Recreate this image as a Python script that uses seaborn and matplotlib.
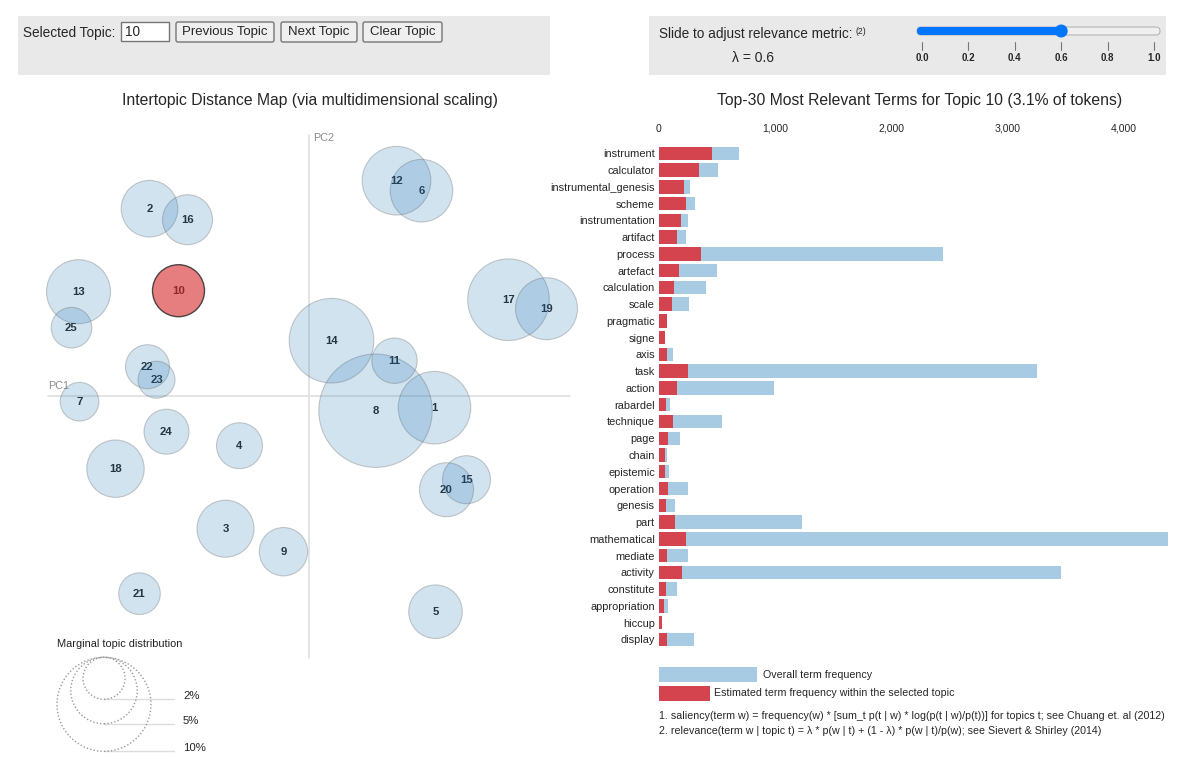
import matplotlib
matplotlib.use("Agg")
import matplotlib.pyplot as plt
from matplotlib.patches import Circle, FancyBboxPatch, Rectangle
import numpy as np
import pandas as pd
import seaborn as sns

# intertopic distance map: topic id, PC1, PC2, share of tokens (%)
topic_ids = list(range(1, 26))
pc1 = [0.125, -0.160, -0.084, -0.070, 0.126, 0.112, -0.230, 0.066, -0.026, -0.131,
       0.085, 0.087, -0.231, 0.022, 0.157, -0.122, 0.199, -0.194, 0.237, 0.137,
       -0.170, -0.162, -0.153, -0.143, -0.238]
pc2 = [-0.012, 0.187, -0.133, -0.050, -0.216, 0.205, -0.006, -0.015, -0.156, 0.105,
       0.035, 0.215, 0.104, 0.055, -0.084, 0.176, 0.096, -0.073, 0.087, -0.094,
       -0.198, 0.029, 0.016, -0.036, 0.068]
topic_pct = [5.96, 3.63, 3.68, 2.39, 3.25, 4.43, 1.69, 14.55, 2.65, 3.06,
             2.33, 5.33, 4.64, 8.10, 2.61, 2.83, 7.54, 3.73, 4.35, 3.30,
             1.96, 2.19, 1.55, 2.29, 1.87]
selected_topic = 10
legend_pct = [2, 5, 10]

# top-30 terms for topic 10
terms = ["instrument", "calculator", "instrumental_genesis", "scheme", "instrumentation",
         "artifact", "process", "artefact", "calculation", "scale", "pragmatic", "signe",
         "axis", "task", "action", "rabardel", "technique", "page", "chain", "epistemic",
         "operation", "genesis", "part", "mathematical", "mediate", "activity",
         "constitute", "appropriation", "hiccup", "display"]
term_total = [688, 511, 268, 308, 246, 236, 2438, 496, 406, 261, 65, 54, 120, 3250,
              993, 94, 540, 181, 65, 87, 250, 134, 1232, 4377, 246, 3460, 152, 80, 25, 301]
term_topic = [453, 341, 217, 228, 192, 156, 359, 170, 127, 109, 65, 54, 69, 246,
              152, 58, 120, 76, 51, 54, 76, 58, 141, 228, 69, 199, 58, 47, 25, 69]
freq_ticks = [0, 1000, 2000, 3000, 4000]

lambda_ticks = [0.0, 0.2, 0.4, 0.6, 0.8, 1.0]
lambda_value = 0.6

sns.set_theme(style="white")
plt.rcParams['font.family'] = ['Liberation Sans', 'DejaVu Sans']

W, H = 1200, 777
fig = plt.figure(figsize=(12, 7.77), dpi=100)


def box(x0, y0, x1, y1):
    return [x0 / W, 1 - y1 / H, (x1 - x0) / W, (y1 - y0) / H]


blue = '#a6cbe3'
red = '#d3444e'

# ---- page layer (controls, titles, legend) in pixel units
ui = fig.add_axes([0, 0, 1, 1], zorder=0)
ui.set_xlim(0, W)
ui.set_ylim(H, 0)
ui.axis('off')

ui.add_patch(Rectangle((18, 16), 532, 59, fc='#e9e9e9', ec='none'))
ui.add_patch(Rectangle((649, 16), 517, 59, fc='#e9e9e9', ec='none'))

ui.text(23, 32.5, "Selected Topic:", fontsize=9.8, va='center')
ui.add_patch(Rectangle((121, 22), 48, 19, fc='white', ec='#767676', lw=1))
ui.text(125, 32.5, str(selected_topic), fontsize=9.8, va='center')
for x0, w, label in [(176, 98, "Previous Topic"), (281, 76, "Next Topic"), (363, 79, "Clear Topic")]:
    ui.add_patch(FancyBboxPatch((x0, 22), w, 20, boxstyle='round,pad=0,rounding_size=2',
                                fc='#efefef', ec='#767676', lw=1))
    ui.text(x0 + w / 2, 32.5, label, fontsize=9.5, ha='center', va='center')

ui.text(659, 34, "Slide to adjust relevance metric:", fontsize=9.8, va='center')
ui.text(855, 31.5, "(2)", fontsize=6.2, va='center')
ui.text(732, 58, "λ = {:.1f}".format(lambda_value), fontsize=10, va='center')

sx0, sx1 = 922, 1154
ui.add_patch(FancyBboxPatch((917, 27), 243, 8, boxstyle='round,pad=0,rounding_size=4',
                            fc='#efefef', ec='#b5b5b5', lw=0.8))
thumb_x = sx0 + lambda_value * (sx1 - sx0)
ui.add_patch(FancyBboxPatch((917, 27), thumb_x - 917, 8, boxstyle='round,pad=0,rounding_size=4',
                            fc='#0075ff', ec='none'))
ui.add_patch(Circle((thumb_x, 31), 6.5, fc='#0075ff', ec='none'))
for v in lambda_ticks:
    tx = sx0 + v * (sx1 - sx0)
    ui.plot([tx, tx], [42, 50], color='#777777', lw=0.8)
    ui.text(tx, 58, "{:.1f}".format(v), fontsize=7, ha='center', va='center', fontweight='bold')

ui.text(310, 100, "Intertopic Distance Map (via multidimensional scaling)", fontsize=11.3,
        ha='center', va='center')
sel_pct = topic_pct[topic_ids.index(selected_topic)]
ui.text(920, 100, "Top-30 Most Relevant Terms for Topic {} ({:.1f}% of tokens)".format(selected_topic, sel_pct),
        fontsize=11.3, ha='center', va='center')

ui.add_patch(Rectangle((659, 667), 98, 15, fc=blue, ec='none'))
ui.text(763, 674.5, "Overall term frequency", fontsize=7.7, va='center')
ui.add_patch(Rectangle((659, 686), 51, 15, fc=red, ec='none'))
ui.text(714, 693.5, "Estimated term frequency within the selected topic", fontsize=7.7, va='center')
ui.text(659, 716, "1. saliency(term w) = frequency(w) * [sum_t p(t | w) * log(p(t | w)/p(t))] for topics t; "
        "see Chuang et. al (2012)", fontsize=7.7, va='center')
ui.text(659, 731, "2. relevance(term w | topic t) = λ * p(w | t) + (1 - λ) * p(w | t)/p(w); "
        "see Sievert & Shirley (2014)", fontsize=7.7, va='center')

# ---- intertopic distance map
mp = fig.add_axes(box(20, 120, 590, 770), zorder=1)
mp.patch.set_alpha(0)
mp.set_xlim(-0.2895, 0.2805)
mp.set_ylim(-0.3743, 0.2757)
mp.axis('off')

mp.plot([-0.2615, 0.2605], [0, 0], color='#e2e2e2', lw=1.3, zorder=1)
mp.plot([0, 0], [0.2607, -0.2623], color='#e2e2e2', lw=1.3, zorder=1)
mp.text(-0.2615, 0.0097, "PC1", fontsize=7.8, color='#8c8c8c', va='center')
mp.text(0.0035, 0.2577, "PC2", fontsize=7.8, color='#8c8c8c', va='center')

r10 = 0.047  # radius of the 10% circle
for t, x, y, p in zip(topic_ids, pc1, pc2, topic_pct):
    r = r10 * np.sqrt(p / 10)
    if t == selected_topic:
        fc, ec, lw = (0.839, 0.153, 0.157, 0.6), (0.15, 0.15, 0.15, 0.8), 1.0
    else:
        fc, ec, lw = (0.122, 0.467, 0.706, 0.2), (0.35, 0.35, 0.35, 0.3), 0.8
    mp.add_patch(Circle((x, y), r, fc=fc, ec=ec, lw=lw, zorder=3))
    mp.text(x, y, str(t), fontsize=8.2, fontweight='bold', ha='center', va='center', zorder=2)

# marginal topic distribution legend
mp.text(-0.2525, -0.2483, "Marginal topic distribution", fontsize=7.9, color='#222222', va='center')
lx, ltop, lend = -0.2055, -0.2616, -0.1355
for p in legend_pct:
    r = r10 * np.sqrt(p / 10)
    mp.add_patch(Circle((lx, ltop - r), r, fill=False, ec='#9a9a9a', ls=(0, (1, 1.5)), lw=1, zorder=2))
    yb = ltop - 2 * r
    mp.plot([lx, lend], [yb, yb], color='#dddddd', lw=1, zorder=1)
    mp.text(lend + 0.009, yb + 0.003, "{}%".format(p), fontsize=8.2, va='center')

# ---- bar chart of relevant terms
df = pd.DataFrame({'term': terms, 'total': term_total, 'topic': term_topic})
bx = fig.add_axes(box(659, 144.9, 1168, 647.8), zorder=1)
bx.patch.set_alpha(0)
sns.barplot(data=df, x='total', y='term', color=blue, saturation=1, width=0.8,
            errorbar=None, linewidth=0, ax=bx)
sns.barplot(data=df, x='topic', y='term', color=red, saturation=1, width=0.8,
            errorbar=None, linewidth=0, ax=bx)
bx.set_xlim(0, max(term_total))
bx.set_ylim(len(terms) - 0.5, -0.5)
bx.xaxis.tick_top()
bx.set_xticks(freq_ticks)
bx.set_xticklabels(["{:,}".format(v) for v in freq_ticks])
bx.tick_params(axis='x', length=0, labelsize=7.6, pad=8)
bx.tick_params(axis='y', length=0, labelsize=7.9, pad=3)
bx.set_xlabel('')
bx.set_ylabel('')
for s in bx.spines.values():
    s.set_visible(False)

fig.savefig("out.png", dpi=100)
